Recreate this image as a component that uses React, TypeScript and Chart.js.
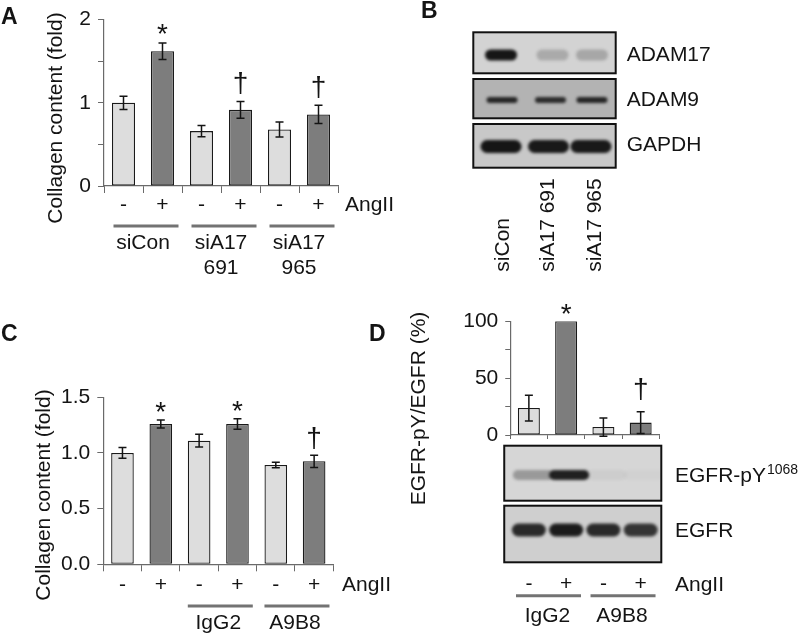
import React, { useEffect, useRef } from 'react';
import { Chart, registerables } from 'chart.js';

Chart.register(...registerables);

const FONT = "'Liberation Sans', Arial, Helvetica, sans-serif";
const LIGHT = '#dddddd';
const DARK = '#7d7d7d';
const AXIS = '#6a6a6a';
const INK = '#141414';

// ---------- Panel A ----------
const angII = ['-', '+', '-', '+', '-', '+'];
const aValues = [1.0, 1.62, 0.66, 0.915, 0.68, 0.86];
const aErrors = [0.08, 0.1, 0.067, 0.1, 0.09, 0.11];
const aMarks = ['', '*', '', '†', '', '†'];
const aGroups = [['siCon'], ['siA17', '691'], ['siA17', '965']];
const aGroupStart = [0, 2, 4];

// ---------- Panel B ----------
const bLanes = ['siCon', 'siA17 691', 'siA17 965'];
const bRows = ['ADAM17', 'ADAM9', 'GAPDH'];
const bAdam17 = [0.95, 0.2, 0.22];
const bAdam9 = [0.85, 0.82, 0.85];
const bGapdh = [0.95, 0.93, 0.93];

// ---------- Panel C ----------
const cValues = [1.0, 1.26, 1.11, 1.26, 0.892, 0.925];
const cErrors = [0.048, 0.036, 0.057, 0.048, 0.024, 0.055];
const cMarks = ['', '*', '', '*', '', '†'];
const cGroups = [['IgG2'], ['A9B8']];
const cGroupStart = [2, 4];

// ---------- Panel D ----------
const dAngII = ['-', '+', '-', '+'];
const dValues = [23.7, 100, 7, 10.9];
const dErrors = [11.3, 0, 8, 9.5];
const dMarks = ['', '*', '', '†'];
const dGroups = [['IgG2'], ['A9B8']];
const dGroupStart = [0, 2];
const dPY = [0.3, 0.9, 0.04, 0.02];
const dEGFR = [0.85, 0.92, 0.85, 0.8];

const GLYPH_C: Record<string, number> = { '*': 0.57, '†': 0.3 };

type BarCfg = {
  w: number;
  h: number;
  area: { l: number; t: number; r: number; b: number };
  labels: string[];
  values: number[];
  errors: number[];
  marks: string[];
  yMax: number;
  yStep: number;
  yLabel: (v: number) => string;
  xTick: number;
  xPad: number;
  yTick: number;
  yPad: number;
  title: string;
  titleX: number;
  titleY: number;
  groups: string[][];
  groupStart: number[];
  groupLineY: number;
  groupTextY: number;
  groupShift: number;
  angX: number;
  angY: number;
  markGap: Record<string, number>;
  extra?: (chart: any) => void;
};

function drawBlot(
  ctx: CanvasRenderingContext2D,
  x0: number,
  x1: number,
  y0: number,
  y1: number,
  bg: string,
  lanes: number[],
  intens: number[],
  bandY: number,
  bandW: number,
  bandH: number
) {
  ctx.save();
  ctx.fillStyle = bg;
  ctx.fillRect(x0, y0, x1 - x0, y1 - y0);
  ctx.beginPath();
  ctx.rect(x0, y0, x1 - x0, y1 - y0);
  ctx.clip();
  ctx.filter = 'blur(1.8px)';
  lanes.forEach((cx, i) => {
    const a = intens[i];
    ctx.fillStyle = `rgba(12,12,12,${a})`;
    ctx.beginPath();
    (ctx as any).roundRect(cx - bandW / 2, bandY - bandH / 2, bandW, bandH, bandH / 2);
    ctx.fill();
  });
  ctx.filter = 'none';
  ctx.restore();
  ctx.save();
  ctx.strokeStyle = '#111';
  ctx.lineWidth = 2;
  ctx.strokeRect(x0, y0, x1 - x0, y1 - y0);
  ctx.restore();
}

function barChart(canvas: HTMLCanvasElement, c: BarCfg) {
  const plugin = {
    id: 'extras',
    afterDatasetsDraw(chart: any) {
      const ctx: CanvasRenderingContext2D = chart.ctx;
      const xs = chart.scales.x;
      const ys = chart.scales.y;
      const meta = chart.getDatasetMeta(0);
      ctx.save();
      ctx.strokeStyle = INK;
      ctx.lineWidth = 1.5;
      c.values.forEach((v, i) => {
        const e = c.errors[i];
        const x = meta.data[i].x;
        if (e > 0) {
          const yt = ys.getPixelForValue(v + e);
          const yb = ys.getPixelForValue(v - e);
          ctx.beginPath();
          ctx.moveTo(x, yt);
          ctx.lineTo(x, yb);
          ctx.moveTo(x - 4, yt);
          ctx.lineTo(x + 4, yt);
          ctx.moveTo(x - 4, yb);
          ctx.lineTo(x + 4, yb);
          ctx.stroke();
        }
        const m = c.marks[i];
        if (m) {
          const top = ys.getPixelForValue(v + e);
          const size = 28;
          const center = top - c.markGap[m];
          ctx.font = `${size}px ${FONT}`;
          ctx.textAlign = 'center';
          ctx.textBaseline = 'alphabetic';
          ctx.fillStyle = INK;
          ctx.fillText(m, x, center + GLYPH_C[m] * size);
        }
      });
      // groups
      c.groups.forEach((g, k) => {
        const s = c.groupStart[k];
        const x0 = xs.getPixelForValue(s);
        const x1 = xs.getPixelForValue(s + 1);
        const mid = (x0 + x1) / 2;
        ctx.strokeStyle = '#737373';
        ctx.lineWidth = 3;
        ctx.beginPath();
        ctx.moveTo(mid + c.groupShift - 32.5, c.groupLineY);
        ctx.lineTo(mid + c.groupShift + 32.5, c.groupLineY);
        ctx.stroke();
        ctx.fillStyle = INK;
        ctx.font = `21px ${FONT}`;
        ctx.textAlign = 'center';
        ctx.textBaseline = 'middle';
        g.forEach((line, j) => ctx.fillText(line, mid, c.groupTextY + j * 25));
      });
      // AngII
      ctx.fillStyle = INK;
      ctx.font = `21px ${FONT}`;
      ctx.textAlign = 'left';
      ctx.textBaseline = 'middle';
      ctx.fillText('AngII', c.angX, c.angY);
      // title
      ctx.save();
      ctx.translate(c.titleX, c.titleY);
      ctx.rotate(-Math.PI / 2);
      ctx.textAlign = 'center';
      ctx.textBaseline = 'middle';
      ctx.font = `21px ${FONT}`;
      ctx.fillText(c.title, 0, 0);
      ctx.restore();
      if (c.extra) c.extra(chart);
      ctx.restore();
    },
  };

  return new Chart(canvas, {
    type: 'bar',
    data: {
      labels: c.labels,
      datasets: [
        {
          data: c.values,
          backgroundColor: c.values.map((_, i) => (i % 2 ? DARK : LIGHT)),
          borderColor: '#1a1a1a',
          borderWidth: 1.3,
          borderSkipped: false,
          barPercentage: 0.59,
          categoryPercentage: 1,
        },
      ],
    },
    options: {
      animation: false,
      responsive: false,
      events: [],
      plugins: { legend: { display: false }, tooltip: { enabled: false } },
      layout: { padding: { left: 0, top: c.area.t, right: c.w - c.area.r, bottom: 0 } },
      scales: {
        x: {
          offset: true,
          grid: {
            display: true,
            offset: true,
            drawOnChartArea: false,
            drawTicks: true,
            tickLength: c.xTick,
            color: AXIS,
            lineWidth: 1,
          },
          border: { display: true, color: AXIS, width: 1.2 },
          ticks: {
            font: { family: FONT, size: 21 },
            color: INK,
            padding: c.xPad,
            autoSkip: false,
            maxRotation: 0,
            minRotation: 0,
          },
          afterFit: (s: any) => {
            s.height = c.h - c.area.b;
          },
        },
        y: {
          min: 0,
          max: c.yMax,
          grid: { drawOnChartArea: false, drawTicks: true, tickLength: c.yTick, color: AXIS, lineWidth: 1 },
          border: { display: true, color: AXIS, width: 1.2 },
          ticks: {
            stepSize: c.yStep,
            font: { family: FONT, size: 21 },
            color: INK,
            padding: c.yPad,
            callback: (v: any) => c.yLabel(Number(v)),
          },
          afterFit: (s: any) => {
            s.width = c.area.l;
          },
        },
      },
    },
    plugins: [plugin],
  } as any);
}

function useChart(make: (cv: HTMLCanvasElement) => Chart) {
  const ref = useRef<HTMLCanvasElement | null>(null);
  useEffect(() => {
    if (!ref.current) return;
    const ch = make(ref.current);
    return () => ch.destroy();
  }, []);
  return ref;
}

export default function App() {
  const refA = useChart((cv) =>
    barChart(cv, {
      w: 400,
      h: 285,
      area: { l: 104, t: 17, r: 338, b: 186 },
      labels: angII,
      values: aValues,
      errors: aErrors,
      marks: aMarks,
      yMax: 2,
      yStep: 0.5,
      yLabel: (v) => (Math.abs(v - Math.round(v)) < 1e-6 ? String(Math.round(v)) : ''),
      xTick: 7,
      xPad: 0,
      yTick: 6,
      yPad: 7,
      title: 'Collagen content (fold)',
      titleX: 56,
      titleY: 118,
      groups: aGroups,
      groupStart: aGroupStart,
      groupLineY: 226,
      groupTextY: 243,
      groupShift: 3,
      angX: 345,
      angY: 205,
      markGap: { '*': 15.5, '†': 17.5 },
    })
  );

  const refC = useChart((cv) =>
    barChart(cv, {
      w: 400,
      h: 304,
      area: { l: 103.3, t: 67.3, r: 333.3, b: 234.3 },
      labels: angII,
      values: cValues,
      errors: cErrors,
      marks: cMarks,
      yMax: 1.5,
      yStep: 0.5,
      yLabel: (v) => v.toFixed(1),
      xTick: 7,
      xPad: 1,
      yTick: 6,
      yPad: 7,
      title: 'Collagen content (fold)',
      titleX: 44,
      titleY: 165,
      groups: cGroups,
      groupStart: cGroupStart,
      groupLineY: 276,
      groupTextY: 293,
      groupShift: 2,
      angX: 342,
      angY: 255,
      markGap: { '*': 15, '†': 17 },
    })
  );

  const refD = useChart((cv) =>
    barChart(cv, {
      w: 420,
      h: 344,
      area: { l: 99, t: 31.3, r: 279.3, b: 145 },
      labels: dAngII,
      values: dValues,
      errors: dErrors,
      marks: dMarks,
      yMax: 100,
      yStep: 25,
      yLabel: (v) => (Math.round(v) % 50 === 0 ? String(Math.round(v)) : ''),
      xTick: 4,
      xPad: 133,
      yTick: 5,
      yPad: 7,
      title: 'EGFR-pY/EGFR (%)',
      titleX: 39,
      titleY: 118.5,
      groups: dGroups,
      groupStart: dGroupStart,
      groupLineY: 305.7,
      groupTextY: 326,
      groupShift: 1,
      angX: 295,
      angY: 295,
      markGap: { '*': 14, '†': 22 },
      extra: (chart: any) => {
        const ctx: CanvasRenderingContext2D = chart.ctx;
        const xs = chart.scales.x;
        const b = chart.chartArea.bottom;
        const lanes = dPY.map((_, i) => xs.getPixelForValue(i));
        const x0 = xs.left - 6;
        const x1 = xs.right + 2;
        drawBlot(ctx, x0, x1, b + 10.7, b + 65.7, '#d6d6d6', lanes.map((x, i) => x + (i === 0 ? 4 : 3)), dPY, b + 40, 40, 10);
        drawBlot(ctx, x0, x1, b + 70.7, b + 127.3, '#cfcfcf', lanes, dEGFR, b + 95, 34, 13);
        ctx.save();
        ctx.fillStyle = INK;
        ctx.textAlign = 'left';
        ctx.textBaseline = 'middle';
        ctx.font = `21px ${FONT}`;
        ctx.fillText('EGFR-pY', 295, 186.7);
        const wpy = ctx.measureText('EGFR-pY').width;
        ctx.font = `14px ${FONT}`;
        ctx.fillText('1068', 295 + wpy + 1, 180);
        ctx.font = `21px ${FONT}`;
        ctx.fillText('EGFR', 295, 241.7);
        ctx.restore();
      },
    })
  );

  const refB = useChart((cv) => {
    const plugin = {
      id: 'blotB',
      afterDatasetsDraw(chart: any) {
        const ctx: CanvasRenderingContext2D = chart.ctx;
        const xs = chart.scales.x;
        const lanes = bLanes.map((_, i) => xs.getPixelForValue(i));
        const x0 = chart.chartArea.left;
        const x1 = chart.chartArea.right;
        drawBlot(ctx, x0, x1, 32.3, 73.3, '#d3d3d3', lanes.map((x, i) => x + [4, 8, 0][i]), bAdam17, 55, 32, 11);
        drawBlot(ctx, x0, x1, 79, 118.3, '#b3b3b3', lanes.map((x, i) => x + [5, 6, 0][i]), bAdam9, 100, 31, 6);
        drawBlot(ctx, x0, x1, 124, 167.7, '#c8c8c8', lanes.map((x, i) => x + [4, 4, -1][i]), bGapdh, 146.5, 41, 13);
        ctx.save();
        ctx.fillStyle = INK;
        ctx.font = `21px ${FONT}`;
        ctx.textAlign = 'left';
        ctx.textBaseline = 'middle';
        const rowY = [55, 100, 145.7];
        bRows.forEach((r, i) => ctx.fillText(r, 226.7, rowY[i]));
        bLanes.forEach((l, i) => {
          ctx.save();
          ctx.translate(lanes[i] + [6, 4, 3][i], 271.7);
          ctx.rotate(-Math.PI / 2);
          ctx.fillText(l, 0, 0);
          ctx.restore();
        });
        ctx.restore();
      },
    };
    return new Chart(cv, {
      type: 'bar',
      data: {
        labels: bLanes,
        datasets: [{ data: bAdam17, backgroundColor: 'rgba(0,0,0,0)', borderWidth: 0 }],
      },
      options: {
        animation: false,
        responsive: false,
        events: [],
        plugins: { legend: { display: false }, tooltip: { enabled: false } },
        layout: { padding: { left: 73.3, right: 184.3, top: 32.3, bottom: 122.3 } },
        scales: { x: { display: false }, y: { display: false, min: 0, max: 1 } },
      },
      plugins: [plugin],
    } as any);
  });

  const letter = (t: string, x: number, y: number) => (
    <div
      style={{
        position: 'absolute',
        left: x,
        top: y,
        font: `bold 23px ${FONT}`,
        color: INK,
        lineHeight: '23px',
      }}
    >
      {t}
    </div>
  );

  return (
    <div style={{ position: 'absolute', left: 0, top: 0, width: 800, height: 634, background: '#fff', overflow: 'hidden' }}>
      <canvas ref={refA} width={400} height={285} style={{ position: 'absolute', left: 0, top: 0 }} />
      <canvas ref={refB} width={400} height={290} style={{ position: 'absolute', left: 400, top: 0 }} />
      <canvas ref={refC} width={400} height={304} style={{ position: 'absolute', left: 0, top: 330 }} />
      <canvas ref={refD} width={420} height={344} style={{ position: 'absolute', left: 380, top: 290 }} />
      {letter('A', 1, 5)}
      {letter('B', 421, -1)}
      {letter('C', 1, 322)}
      {letter('D', 369, 322)}
    </div>
  );
}
